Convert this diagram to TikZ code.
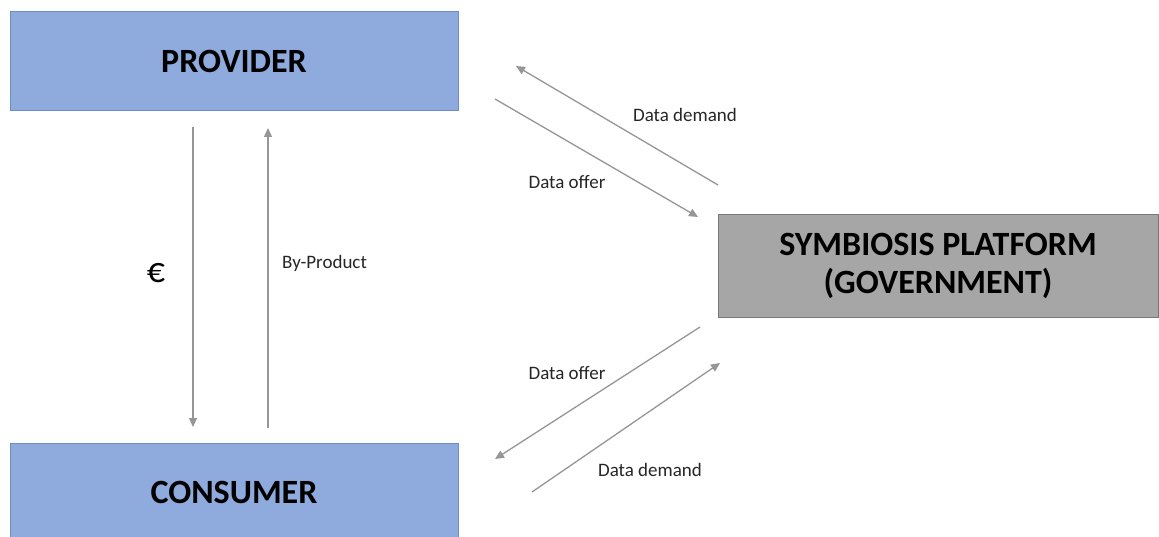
\documentclass[tikz,border=0pt]{standalone}
\usepackage{fontspec}
\setmainfont{Carlito}
\usetikzlibrary{arrows.meta}
\definecolor{boxblue}{RGB}{143,170,220}
\definecolor{boxblueline}{RGB}{110,140,200}
\definecolor{boxgray}{RGB}{166,166,166}
\definecolor{boxgrayline}{RGB}{120,120,120}
\definecolor{arrgray}{RGB}{150,150,150}
\tikzset{
  bluebox/.style={draw=boxblueline, fill=boxblue, line width=1pt, inner sep=0pt,
    minimum width=448pt, font=\fontsize{34}{40}\selectfont\bfseries},
  graybox/.style={draw=boxgrayline, fill=boxgray, line width=1pt, inner sep=0pt,
    minimum width=440pt, minimum height=102pt, align=center,
    font=\fontsize{34}{38}\selectfont\bfseries},
  flow/.style={draw=arrgray, line width=1.3pt, -{Triangle[length=9pt,width=8pt]}},
  lbl/.style={inner sep=0pt, font=\fontsize{19}{22}\selectfont, text=black!85},
}
\begin{document}
\begin{tikzpicture}[x=1pt,y=-1pt]
\clip (0,0) rectangle (1159,537);
\fill[white] (0,0) rectangle (1159,537);
\node[bluebox, minimum height=99pt] (prov) at (234,61) {PROVIDER};
\node[bluebox, minimum height=120pt, anchor=north] (cons) at (234,443) {};
\node[font=\fontsize{34}{40}\selectfont\bfseries] (constext) at (234,492) {CONSUMER};
\node[graybox] (plat) at (938,266) {SYMBIOSIS PLATFORM\\(GOVERNMENT)};
% vertical arrows
\coordinate (e1) at (193,127);
\coordinate (e2) at (193,427);
\coordinate (b1) at (268,428);
\coordinate (b2) at (268,128);
\draw[flow] (e1) -- (e2);
\draw[flow] (b1) -- (b2);
\node[font=\fontsize{36}{40}\selectfont] (euro) at (156,273) {€};
\node[lbl, anchor=west] (byp) at (282,263) {By-Product};
% top diagonal arrows
\coordinate (dd1) at (718,185);
\coordinate (dd2) at (516,66);
\coordinate (do1) at (495,99);
\coordinate (do2) at (698,217);
\draw[flow] (dd1) -- (dd2);
\draw[flow] (do1) -- (do2);
\node[lbl] (ddl) at (685,115) {Data demand};
\node[lbl] (dol) at (567,182) {Data offer};
% bottom diagonal arrows
\coordinate (bo1) at (700,327);
\coordinate (bo2) at (495,459);
\coordinate (bd1) at (532,492);
\coordinate (bd2) at (720,363);
\draw[flow] (bo1) -- (bo2);
\draw[flow] (bd1) -- (bd2);
\node[lbl] (bol) at (567,373) {Data offer};
\node[lbl] (bdl) at (650,470) {Data demand};
\end{tikzpicture}
\end{document}
